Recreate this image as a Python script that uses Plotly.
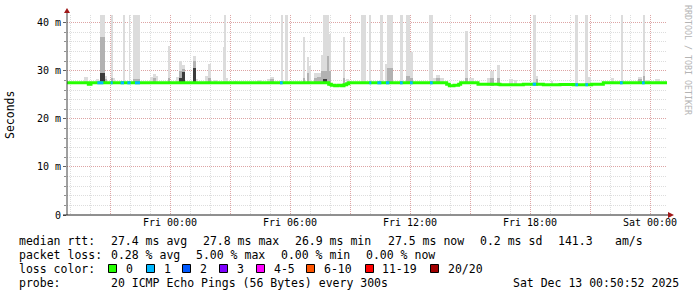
import plotly.graph_objects as go
from datetime import datetime

DAYS = {"Thu": "2025-12-11", "Fri": "2025-12-12", "Sat": "2025-12-13"}

# ---------------- data ----------------
# median RTT (ms) as a step series: value holds until next breakpoint
median_time = ["Thu 18:50", "Thu 19:55", "Thu 20:03", "Fri 07:56", "Fri 08:04", "Fri 08:14",
               "Fri 08:24", "Fri 08:34", "Fri 08:42", "Fri 08:50", "Fri 08:56", "Fri 13:50",
               "Fri 13:58", "Fri 14:12", "Fri 14:26", "Fri 14:32", "Fri 15:24", "Fri 16:30",
               "Fri 17:40", "Fri 18:40", "Fri 19:30", "Fri 20:10", "Fri 21:05", "Fri 21:40",
               "Sat 00:51"]
median_ms = [27.5, 27.2, 27.5, 27.2, 27.0, 26.9,
             27.0, 26.9, 27.1, 27.3, 27.5, 27.2,
             26.9, 27.0, 27.2, 27.5, 27.2, 27.1,
             27.2, 27.1, 27.15, 27.1, 27.2, 27.5,
             27.5]

# smoke (ping spread) episodes: start, end, top of light smoke, top of medium smoke, top of dark core
spike_start = ["Thu 19:42", "Thu 20:18", "Thu 20:30", "Thu 20:45", "Thu 21:02", "Thu 21:08", "Thu 21:38",
               "Thu 21:57", "Thu 22:08", "Thu 23:00", "Thu 23:09", "Thu 23:18", "Thu 23:54", "Fri 00:18",
               "Fri 00:28", "Fri 00:36", "Fri 01:08", "Fri 01:18", "Fri 01:46", "Fri 01:54", "Fri 02:12",
               "Fri 02:38", "Fri 02:44", "Fri 02:48", "Fri 03:12", "Fri 04:21", "Fri 04:51", "Fri 05:00",
               "Fri 05:32", "Fri 05:44", "Fri 06:38", "Fri 06:52", "Fri 06:58", "Fri 07:12", "Fri 07:22",
               "Fri 07:32", "Fri 07:38", "Fri 07:50", "Fri 07:56", "Fri 08:38", "Fri 08:48", "Fri 09:32",
               "Fri 09:58", "Fri 10:30", "Fri 10:46", "Fri 10:52", "Fri 11:30", "Fri 11:48", "Fri 12:00",
               "Fri 12:58", "Fri 13:08", "Fri 13:18", "Fri 13:30", "Fri 14:44", "Fri 14:57", "Fri 15:51",
               "Fri 16:00", "Fri 16:22", "Fri 16:57", "Fri 17:12", "Fri 18:08", "Fri 18:18", "Fri 19:02",
               "Fri 20:16", "Fri 20:46", "Fri 20:54", "Fri 22:02", "Fri 22:32", "Fri 23:24", "Fri 23:38",
               "Fri 23:48", "Sat 00:15"]
spike_end = ["Thu 19:54", "Thu 20:27", "Thu 20:45", "Thu 20:52", "Thu 21:08", "Thu 21:14", "Thu 21:44",
             "Thu 22:00", "Thu 22:30", "Thu 23:09", "Thu 23:18", "Thu 23:24", "Fri 00:00", "Fri 00:27",
             "Fri 00:36", "Fri 00:45", "Fri 01:18", "Fri 01:24", "Fri 01:54", "Fri 02:02", "Fri 02:20",
             "Fri 02:44", "Fri 02:48", "Fri 02:54", "Fri 03:21", "Fri 04:33", "Fri 05:00", "Fri 05:12",
             "Fri 05:40", "Fri 05:54", "Fri 06:46", "Fri 06:58", "Fri 07:04", "Fri 07:22", "Fri 07:32",
             "Fri 07:38", "Fri 07:50", "Fri 07:56", "Fri 08:02", "Fri 08:46", "Fri 08:56", "Fri 09:48",
             "Fri 10:04", "Fri 10:38", "Fri 10:52", "Fri 11:08", "Fri 11:38", "Fri 12:00", "Fri 12:08",
             "Fri 13:08", "Fri 13:18", "Fri 13:30", "Fri 13:42", "Fri 14:54", "Fri 15:12", "Fri 16:00",
             "Fri 16:12", "Fri 16:30", "Fri 17:09", "Fri 17:21", "Fri 18:18", "Fri 18:24", "Fri 19:10",
             "Fri 20:24", "Fri 20:54", "Fri 21:02", "Fri 22:12", "Fri 22:38", "Fri 23:36", "Fri 23:44",
             "Sat 00:00", "Sat 00:30"]
spike_top = [28.7, 28.2, 41.6, 29.0, 41.6, 28.5, 41.6,
             41.6, 41.6, 28.8, 29.3, 29.0, 35.2, 28.8,
             32.1, 31.1, 33.0, 28.2, 29.0, 31.5, 28.0,
             35.0, 41.6, 28.5, 27.9, 28.0, 28.3, 28.7,
             41.6, 41.6, 37.1, 32.8, 30.9, 29.5, 29.6,
             33.2, 41.6, 41.6, 37.7, 37.0, 28.2, 41.6,
             41.6, 41.6, 31.5, 41.6, 41.6, 41.6, 34.0,
             41.6, 28.5, 29.2, 28.6, 38.3, 28.4, 28.5,
             29.9, 31.1, 28.3, 28.0, 41.6, 29.0, 27.9,
             41.6, 41.6, 28.8, 28.6, 41.6, 28.7, 41.6,
             28.0, 28.2]
spike_mid = [0, 0, 37.0, 28.3, 28.5, 0, 0,
             0, 28.2, 0, 28.4, 0, 28.5, 0,
             30.0, 30.4, 32.0, 0, 0, 28.4, 0,
             0, 0, 0, 0, 0, 0, 28.2,
             0, 0, 28.5, 29.5, 0, 28.6, 28.8,
             30.0, 30.0, 33.0, 30.0, 28.5, 0, 0,
             0, 0, 0, 30.5, 0, 29.0, 28.4,
             0, 0, 28.4, 0, 28.6, 0, 0,
             28.6, 28.5, 0, 0, 0, 28.3, 0,
             0, 0, 0, 0, 0, 28.2, 29.0,
             0, 0]
spike_core = [0, 0, 29.6, 0, 0, 0, 0,
              0, 0, 0, 0, 0, 0, 0,
              28.5, 29.8, 30.5, 0, 0, 0, 0,
              0, 0, 0, 0, 0, 0, 0,
              0, 0, 0, 0, 0, 0, 0,
              0, 28.3, 0, 0, 0, 0, 0,
              0, 0, 0, 0, 0, 0, 0,
              0, 0, 0, 0, 0, 0, 0,
              0, 0, 0, 0, 0, 0, 0,
              0, 0, 0, 0, 0, 0, 0,
              0, 0]

# median segments drawn in the "1 lost ping" colour
loss1_start = ["Thu 20:22", "Thu 21:02", "Thu 21:32", "Thu 21:52", "Thu 22:15", "Fri 05:30",
               "Fri 09:58", "Fri 10:22", "Fri 10:48", "Fri 11:30", "Fri 12:00", "Fri 13:00",
               "Fri 18:08", "Fri 20:16", "Fri 20:46", "Fri 22:30", "Fri 23:36"]
loss1_end = ["Thu 20:40", "Thu 21:08", "Thu 21:42", "Thu 22:02", "Thu 22:30", "Fri 05:38",
             "Fri 10:04", "Fri 10:34", "Fri 10:58", "Fri 11:38", "Fri 12:08", "Fri 13:08",
             "Fri 18:18", "Fri 20:24", "Fri 20:54", "Fri 22:38", "Fri 23:44"]

x_range = ["Thu 18:51", "Sat 00:51"]
x_major_times = ["Thu 21:00", "Fri 00:00", "Fri 03:00", "Fri 06:00", "Fri 09:00", "Fri 12:00",
                 "Fri 15:00", "Fri 18:00", "Fri 21:00", "Sat 00:00"]
x_major_text = ["", "Fri 00:00", "", "Fri 06:00", "", "Fri 12:00", "", "Fri 18:00", "", "Sat 00:00"]
y_tick_vals = [0, 10, 20, 30, 40]
y_tick_text = ["0", "10 m", "20 m", "30 m", "40 m"]

loss_labels = ["0", "1", "2", "3", "4-5", "6-10", "11-19", "20/20"]
loss_colors = ["#26ff00", "#00b8ff", "#0059ff", "#7e00ff", "#ff00ff", "#ff5500", "#ff0000", "#a10000"]

stats_rtt = ["median rtt:", "27.4 ms avg", "27.8 ms max", "26.9 ms min", "27.5 ms now", "0.2 ms sd", "141.3", "am/s"]
stats_loss = ["packet loss:", "0.28 % avg", "5.00 % max", "0.00 % min", "0.00 % now"]
probe_text = ["probe:", "20 ICMP Echo Pings (56 Bytes) every 300s"]
stamp_text = "Sat Dec 13 00:50:52 2025"


# ---------------- helpers ----------------
def ts(s):
    d, hm = s.split()
    return datetime.fromisoformat(f"{DAYS[d]}T{hm}:00")


med_t = [ts(t) for t in median_time]


def med_at(t):
    v = median_ms[0]
    for tt, mv in zip(med_t, median_ms):
        if tt <= t:
            v = mv
        else:
            break
    return v


L, R, T, B = 67, 30, 15, 82
W, H = 697, 297
PW, PH = W - L - R, H - T - B


def px(x):
    return (x - L) / PW


def py(y):
    return (T + PH - y) / PH


MONO = "DejaVu Sans Mono"

fig = go.Figure()


def smoke_layer(levels, color):
    xs, ws, bs, hs = [], [], [], []
    for s, e, lv in zip(spike_start, spike_end, levels):
        if lv <= 0:
            continue
        t0, t1 = ts(s), ts(e)
        c = t0 + (t1 - t0) / 2
        base = med_at(c) - 0.3
        xs.append(c)
        ws.append((t1 - t0).total_seconds() * 1000)
        bs.append(base)
        hs.append(lv - base)
    fig.add_trace(go.Bar(x=xs, y=hs, base=bs, width=ws, marker=dict(color=color, line=dict(width=0)),
                         hoverinfo="skip", showlegend=False))


smoke_layer(spike_top, "#dcdcdc")
smoke_layer(spike_mid, "#b2b2b2")
smoke_layer(spike_core, "#3c3c3c")

fig.add_trace(go.Scatter(x=med_t, y=median_ms, mode="lines",
                         line=dict(color=loss_colors[0], width=3, shape="hv"),
                         hoverinfo="skip", showlegend=False))

lx, ly = [], []
for s, e in zip(loss1_start, loss1_end):
    t0, t1 = ts(s), ts(e)
    v = med_at(t0)
    lx += [t0, t1, None]
    ly += [v, v, None]
fig.add_trace(go.Scatter(x=lx, y=ly, mode="lines", line=dict(color=loss_colors[1], width=3),
                         hoverinfo="skip", showlegend=False))

grid_c = "rgba(143,143,143,0.30)"
mgrid_c = "rgba(222,48,48,0.33)"
dash = "1px,1px"

fig.update_layout(
    width=W, height=H, margin=dict(l=L, r=R, t=T, b=B, pad=0),
    paper_bgcolor="white", plot_bgcolor="white", barmode="overlay", bargap=0,
    showlegend=False,
    xaxis=dict(type="date", range=[ts(x_range[0]), ts(x_range[1])],
               tickmode="array", tickvals=[ts(t) for t in x_major_times], ticktext=x_major_text,
               showgrid=True, gridcolor=mgrid_c, griddash=dash, gridwidth=1,
               ticks="", showline=False, zeroline=False,
               tickfont=dict(family=MONO, size=10, color="#000"),
               minor=dict(tick0=ts("Thu 19:00"), dtick=3600000, showgrid=True, gridcolor=grid_c,
                          griddash=dash, gridwidth=1)),
    yaxis=dict(range=[0, 41.6], tickmode="array", tickvals=y_tick_vals, ticktext=y_tick_text,
               showgrid=True, gridcolor=mgrid_c, griddash=dash, gridwidth=1,
               ticks="outside", ticklen=3, tickcolor="#606060", showline=False, zeroline=False,
               tickfont=dict(family=MONO, size=10, color="#000"),
               minor=dict(dtick=2, showgrid=True, gridcolor=grid_c, griddash=dash, gridwidth=1,
                          ticks="outside", ticklen=2, tickcolor="#909090")),
)

shapes = []
# axes with arrows
shapes.append(dict(type="line", xref="paper", yref="paper", x0=px(67), x1=px(67), y0=py(215), y1=py(11),
                   line=dict(color="#404040", width=1)))
shapes.append(dict(type="line", xref="paper", yref="paper", x0=px(63), x1=px(670), y0=py(215), y1=py(215),
                   line=dict(color="#202020", width=1)))
shapes.append(dict(type="path", xref="paper", yref="paper",
                   path=f"M {px(64)},{py(13)} L {px(70)},{py(13)} L {px(67)},{py(8)} Z",
                   fillcolor="#a01818", line=dict(width=0)))
shapes.append(dict(type="path", xref="paper", yref="paper",
                   path=f"M {px(668)},{py(212)} L {px(668)},{py(218)} L {px(674)},{py(215)} Z",
                   fillcolor="#a01818", line=dict(width=0)))
# loss colour swatches
box_x = [108.5, 146.5, 182.5, 219.5, 256.5, 306.5, 365.5, 430.5]
lab_x = [124, 161.5, 198, 235, 271.5, 321.5, 380, 446]
for bx, col in zip(box_x, loss_colors):
    shapes.append(dict(type="rect", xref="paper", yref="paper", x0=px(bx), x1=px(bx + 8),
                       y0=py(264.5), y1=py(272.5), fillcolor=col, line=dict(color="#000", width=1)))
fig.update_layout(shapes=shapes)

ann = []


def text(x, y, s, size=11.5, color="#000", anchor="left", angle=0):
    ann.append(dict(x=px(x), y=py(y), xref="paper", yref="paper", text=s.replace(" ", "\u00a0"),
                    showarrow=False, xanchor=anchor, yanchor="middle", textangle=angle,
                    font=dict(family=MONO, size=size, color=color)))


CW = 7.1
X0 = 16.5
rtt_cols = [0, 13, 26, 39, 52, 65, 76, 84]
for c, s in zip(rtt_cols, stats_rtt):
    text(X0 + c * CW, 241, s)
loss_cols = [0, 13, 25, 37, 49]
for c, s in zip(loss_cols, stats_loss):
    text(X0 + c * CW, 255, s)
text(X0, 268.5, "loss color:")
for lx_, s in zip(lab_x, loss_labels):
    text(lx_, 268.5, s)
text(X0, 283, probe_text[0])
text(X0 + 13 * CW, 283, probe_text[1])
text(681, 283, stamp_text, anchor="right")

text(10, 115, "Seconds", size=11.5, anchor="center", angle=-90)
text(688, 60, "RRDTOOL / TOBI OETIKER", size=8.3, color="#b4b4b4", anchor="center", angle=90)
fig.update_layout(annotations=ann)

fig.write_html("out.html")
